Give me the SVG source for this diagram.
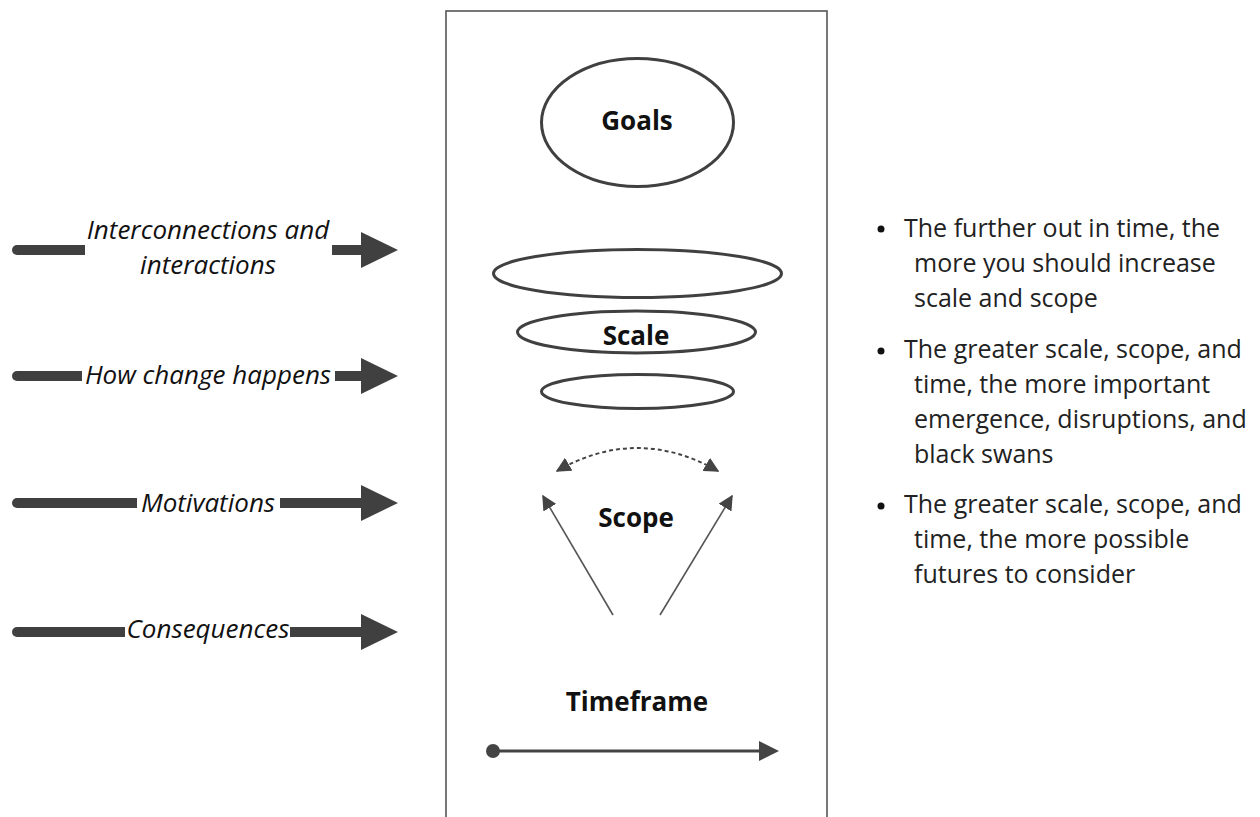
<svg xmlns="http://www.w3.org/2000/svg" width="1260" height="817" viewBox="0 0 1260 817">
<defs>
<style>
.lbl{font-family:"Open Sans","Liberation Sans",sans-serif;font-style:italic;font-size:26px;fill:#111;text-anchor:middle}
.bold{font-family:"Open Sans","Liberation Sans",sans-serif;font-weight:bold;font-size:26px;fill:#111;text-anchor:middle}
.bul{font-family:"Open Sans","Liberation Sans",sans-serif;font-size:25px;fill:#222}
.bar{stroke:#404040;stroke-width:10;stroke-linecap:butt;fill:none}
.cap{fill:#404040}
.head{fill:#404040}
.ell{fill:none;stroke:#404040;stroke-width:3}
.thin{stroke:#555;stroke-width:1.6;fill:none}
</style>
<marker id="ah2" viewBox="0 0 10 10" refX="9" refY="5" markerWidth="15" markerHeight="15" orient="auto-start-reverse" markerUnits="userSpaceOnUse">
<path d="M0,0 L10,5 L0,10 z" fill="#444"/>
</marker>
</defs>
<rect width="1260" height="817" fill="#fff"/>

<g id="frame">
<rect x="446" y="11" width="381" height="820" fill="none" stroke="#555" stroke-width="1.6"/>
</g>

<g id="connectors">
<g id="arrow-interconnections">
<line class="bar" x1="17" y1="250" x2="85" y2="250"/>
<circle class="cap" cx="17" cy="250" r="5"/>
<line class="bar" x1="332" y1="250" x2="363" y2="250"/>
<polygon class="head" points="361,232 398,250 361,268"/>
</g>
<g id="arrow-how">
<line class="bar" x1="17" y1="376" x2="82" y2="376"/>
<circle class="cap" cx="17" cy="376" r="5"/>
<line class="bar" x1="335" y1="376" x2="363" y2="376"/>
<polygon class="head" points="361,358 398,376 361,394"/>
</g>
<g id="arrow-motivations">
<line class="bar" x1="17" y1="503" x2="137" y2="503"/>
<circle class="cap" cx="17" cy="503" r="5"/>
<line class="bar" x1="280" y1="503" x2="363" y2="503"/>
<polygon class="head" points="361,485 398,503 361,521"/>
</g>
<g id="arrow-consequences">
<line class="bar" x1="17" y1="632" x2="125" y2="632"/>
<circle class="cap" cx="17" cy="632" r="5"/>
<line class="bar" x1="290" y1="632" x2="363" y2="632"/>
<polygon class="head" points="361,614 398,632 361,650"/>
</g>
<path id="scope-arc" d="M557,471 Q637,425 718,471" fill="none" stroke="#444" stroke-width="2" stroke-dasharray="4,3" marker-start="url(#ah2)" marker-end="url(#ah2)"/>
<line id="scope-left" class="thin" x1="613" y1="615" x2="543" y2="496" marker-end="url(#ah2)"/>
<line id="scope-right" class="thin" x1="660" y1="615" x2="732" y2="496" marker-end="url(#ah2)"/>
<g id="timeline">
<line x1="493" y1="751" x2="765" y2="751" stroke="#444" stroke-width="3"/>
<circle cx="493" cy="751" r="7" fill="#444"/>
<polygon points="759,741 779,751 759,761" fill="#444"/>
</g>
</g>

<text class="lbl" x="208" y="239">Interconnections and</text>
<text class="lbl" x="208" y="274">interactions</text>
<text class="lbl" x="208" y="384">How change happens</text>
<text class="lbl" x="208" y="512">Motivations</text>
<text class="lbl" x="208" y="638">Consequences</text>

<g id="goals">
<ellipse class="ell" cx="637.5" cy="122.5" rx="96" ry="64"/>
<text class="bold" x="637" y="130">Goals</text>
</g>
<g id="scale">
<ellipse class="ell" cx="637.5" cy="273.5" rx="144" ry="24"/>
<ellipse class="ell" cx="636.5" cy="332" rx="119" ry="21"/>
<ellipse class="ell" cx="637.5" cy="391.5" rx="96" ry="17"/>
<text class="bold" x="636" y="345">Scale</text>
</g>
<g id="scope">
<text class="bold" x="636" y="527">Scope</text>
</g>
<g id="timeframe">
<text class="bold" x="637" y="711">Timeframe</text>
</g>

<g id="notes">
<circle cx="881" cy="229" r="3.5" fill="#111"/>
<text class="bul" x="904" y="237">The further out in time, the</text>
<text class="bul" x="914" y="272">more you should increase</text>
<text class="bul" x="914" y="307">scale and scope</text>
<circle cx="881" cy="351" r="3.5" fill="#111"/>
<text class="bul" x="904" y="358">The greater scale, scope, and</text>
<text class="bul" x="914" y="393">time, the more important</text>
<text class="bul" x="914" y="428">emergence, disruptions, and</text>
<text class="bul" x="914" y="463">black swans</text>
<circle cx="881" cy="506" r="3.5" fill="#111"/>
<text class="bul" x="904" y="513">The greater scale, scope, and</text>
<text class="bul" x="914" y="548">time, the more possible</text>
<text class="bul" x="914" y="583">futures to consider</text>
</g>
</svg>
